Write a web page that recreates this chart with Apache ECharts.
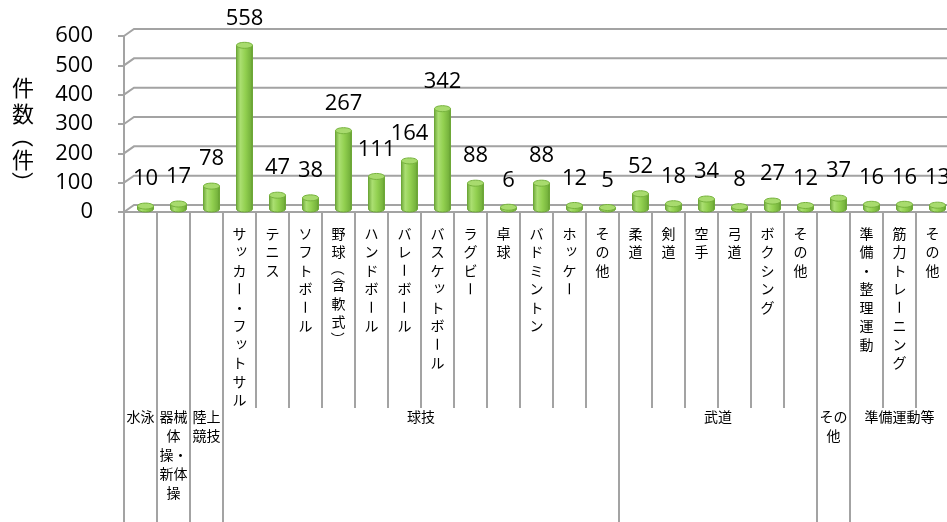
<!DOCTYPE html>
<html><head><meta charset="utf-8">
<script src="https://cdn.jsdelivr.net/npm/echarts@6/dist/echarts.min.js"></script>
<style>html,body{margin:0;padding:0;background:#fff}#c{width:947px;height:522px}</style>
</head><body><div id="c"></div>
<script>
// ---- data ----
const subLabels = ['', '', '', 'サッカー・フットサル', 'テニス', 'ソフトボール', '野球（含軟式）', 'ハンドボール',
  'バレーボール', 'バスケットボール', 'ラグビー', '卓球', 'バドミントン', 'ホッケー', 'その他',
  '柔道', '剣道', '空手', '弓道', 'ボクシング', 'その他', '', '準備・整理運動', '筋力トレーニング', 'その他'];
const values = [10, 17, 78, 558, 47, 38, 267, 111, 164, 342, 88, 6, 88, 12, 5, 52, 18, 34, 8, 27, 12, 37, 16, 16, 13];
const groupNames = ['水泳', '器械体操・新体操', '陸上競技', '球技', '武道', 'その他', '準備運動等'];
const groupLabels = ['水泳', '器械\n体\n操・\n新体\n操', '陸上\n競技', '球技', '武道', 'その\n他', '準備運動等'];
const groupSizes = [1, 1, 1, 12, 6, 1, 3];
const yTicks = [0, 100, 200, 300, 400, 500, 600];
const yName = '件数（件）';

// ---- helpers ----
const GRAY = '#a3a3a3';
const JP = '"Noto Sans CJK JP", sans-serif';
const NUM = '"Open Sans", sans-serif';
const ROTATE = new Set(['（', '）', 'ー']);
const BRACKET = new Set(['（', '）']);
const SMALL = new Set(['ッ', 'ャ', 'ュ', 'ョ', 'ァ', 'ィ', 'ゥ', 'ェ', 'ォ']);
function charHeights(str, lh) { return Array.from(str).map(ch => BRACKET.has(ch) ? lh * 0.8 : lh); }
function verticalChars(str, cx, top, lh, fs) {
  const els = []; let y = top;
  const hs = charHeights(str, lh);
  Array.from(str).forEach((ch, k) => {
    const h = hs[k];
    const small = SMALL.has(ch);
    els.push({ type: 'text', x: cx + (small ? 2 : 0), y: y + h / 2 - (small ? 2 : 0), rotation: ROTATE.has(ch) ? -Math.PI / 2 : 0,
      style: { text: ch, x: 0, y: 0, align: 'center', verticalAlign: 'middle', fontSize: fs, fontFamily: JP, fill: '#000' } });
    y += h;
  });
  return els;
}
const groupStarts = []; let acc = 0; groupSizes.forEach(s => { groupStarts.push(acc); acc += s; });

const chart = echarts.init(document.getElementById('c'), null, { renderer: 'canvas' });

const wallSeries = {
  type: 'custom', silent: true, z: 1,
  data: yTicks.map(v => [0, v]), encode: { x: 0, y: 1 },
  renderItem: (params, api) => {
    const cs = params.coordSys;
    const y = api.coord([0, api.value(1)])[1];
    const x0 = cs.x;
    return { type: 'polyline', shape: { points: [[x0, y], [x0 + 10, y - 7], [x0 + cs.width + 12, y - 7]] },
      style: { stroke: GRAY, lineWidth: 2, fill: null } };
  }
};

const yNameSeries = {
  type: 'custom', silent: true, z: 2,
  data: [[0, 0]], encode: { x: 0, y: 1 },
  renderItem: (params, api) => {
    const cs = params.coordSys;
    const lh = 25.5;
    const total = charHeights(yName, lh).reduce((a, b) => a + b, 0);
    const center = cs.y + cs.height / 2 + 10;
    return { type: 'group', children: verticalChars(yName, cs.x - 101, center - total / 2, lh, 22) };
  }
};

const subLabelSeries = {
  type: 'custom', silent: true, z: 2,
  data: subLabels.map((s, i) => [i, 0]), encode: { x: 0, y: 1 },
  renderItem: (params, api) => {
    const i = api.value(0);
    const p = api.coord([i, 0]);
    return { type: 'group', children: verticalChars(subLabels[i], p[0], p[1] + 12, 18.5, 14) };
  }
};

const groupSeries = {
  type: 'custom', silent: true, z: 2,
  data: groupNames.map((n, i) => [groupStarts[i], 0, i]), encode: { x: 0, y: 1 },
  renderItem: (params, api) => {
    const i = api.value(2);
    const s = groupStarts[i], e = s + groupSizes[i];
    const band = api.size([1, 0])[0];
    const x0 = api.coord([s, 0])[0] - band / 2;
    const x1 = api.coord([e - 1, 0])[0] + band / 2;
    const yA = params.coordSys.y + params.coordSys.height;
    const H = api.getHeight();
    const children = [{ type: 'line', shape: { x1: x0, y1: yA, x2: x0, y2: H }, style: { stroke: GRAY, lineWidth: 2 } }];
    if (i === groupNames.length - 1) children.push({ type: 'line', shape: { x1: x1, y1: yA, x2: x1, y2: H }, style: { stroke: GRAY, lineWidth: 2 } });
    children.push({ type: 'text', style: { text: groupLabels[i], x: (x0 + x1) / 2, y: yA + 195, align: 'center', verticalAlign: 'top',
      fontSize: 14, fontFamily: JP, lineHeight: 19, fill: '#000' } });
    return { type: 'group', children };
  }
};

const barSeries = {
  type: 'custom', z: 3,
  data: values.map((v, i) => [i, v]), encode: { x: 0, y: 1 },
  renderItem: (params, api) => {
    const i = api.value(0), v = api.value(1);
    const b = api.coord([i, 0]), t = api.coord([i, v]);
    const cx = b[0] + 5, yb = b[1] - 3, yt = t[1] - 3, rx = 8, ry = 3;
    const grad = new echarts.graphic.LinearGradient(0, 0, 1, 0, [
      { offset: 0, color: '#6aa436' }, { offset: 0.25, color: '#abdf72' }, { offset: 0.55, color: '#92d050' },
      { offset: 0.85, color: '#78b53e' }, { offset: 1, color: '#5d952c' }]);
    return { type: 'group', children: [
      { type: 'path', shape: { pathData: `M${cx - rx} ${yt} L${cx - rx} ${yb} A${rx} ${ry} 0 0 0 ${cx + rx} ${yb} L${cx + rx} ${yt} Z` },
        style: { fill: grad, stroke: '#6ea838', lineWidth: 1 } },
      { type: 'ellipse', shape: { cx: cx, cy: yt, rx: rx, ry: ry }, style: { fill: '#a8db6e', stroke: '#76b23d', lineWidth: 1 } },
      { type: 'text', style: { text: String(v), x: cx, y: yt - 16, align: 'center', verticalAlign: 'bottom',
        fontSize: 22, fontFamily: NUM, fill: '#000' } }
    ] };
  }
};

chart.setOption({
  animation: false,
  grid: { left: 124, right: -2, top: 36, bottom: 310, outerBoundsMode: 'none' },
  xAxis: {
    type: 'category', data: subLabels, boundaryGap: true,
    axisLine: { lineStyle: { color: GRAY, width: 2 } },
    axisTick: { show: true, length: 196, interval: 0, lineStyle: { color: GRAY, width: 2 } },
    axisLabel: { show: false },
    splitLine: { show: false }
  },
  yAxis: {
    type: 'value', min: 0, max: 600, interval: 100,
    axisLine: { show: true, lineStyle: { color: GRAY, width: 2 } },
    axisTick: { show: true, length: 6, lineStyle: { color: GRAY, width: 2 } },
    axisLabel: { margin: 31, fontFamily: NUM, fontSize: 22, color: '#000', padding: [3, 0, 0, 0] },
    splitLine: { show: false }
  },
  series: [wallSeries, yNameSeries, subLabelSeries, groupSeries, barSeries]
});
</script></body></html>
